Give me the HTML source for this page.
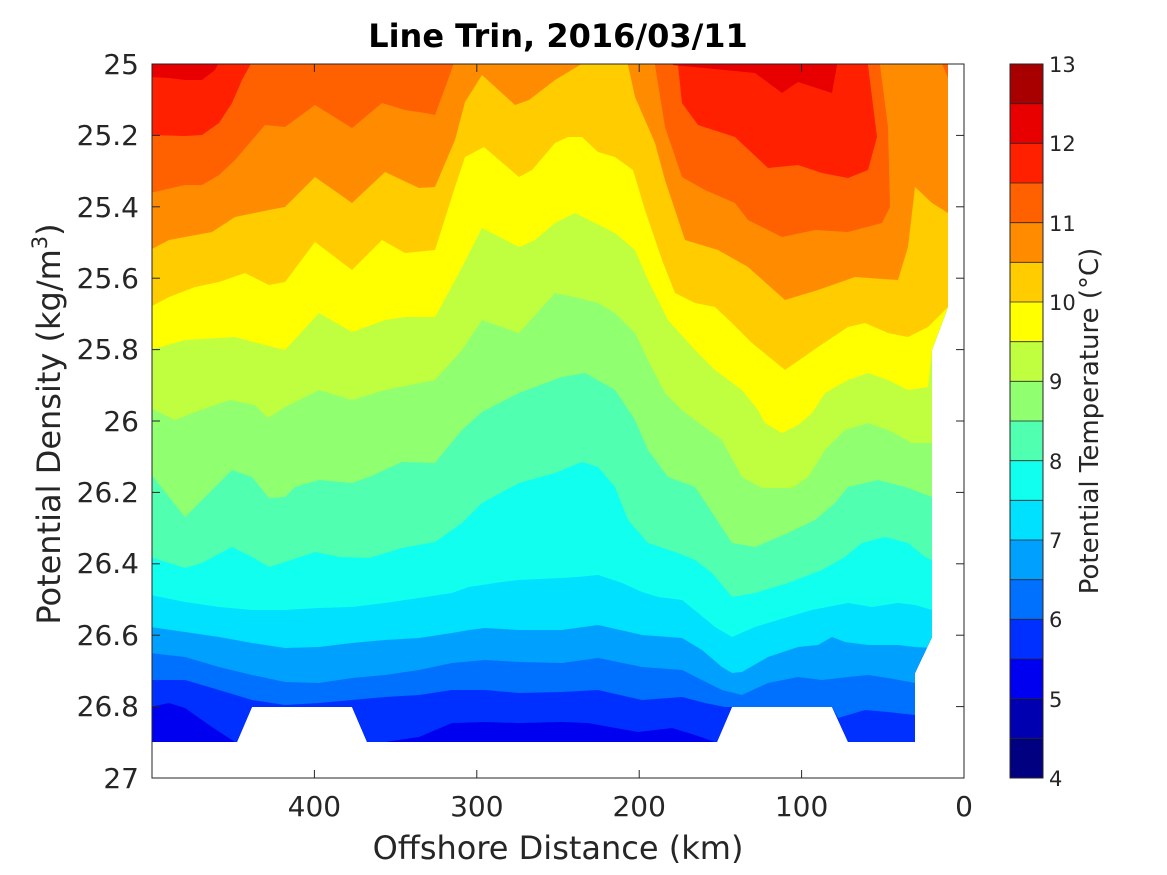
<!DOCTYPE html>
<html><head><meta charset="utf-8"><style>
html,body{margin:0;padding:0;background:#fff;}
svg{display:block;}
text{font-family:"DejaVu Sans","Liberation Sans",sans-serif;fill:#262626;}
</style></head><body>
<svg width="1167" height="875" viewBox="0 0 1167 875" xmlns="http://www.w3.org/2000/svg">
<defs>
<clipPath id="d"><polygon points="152,64 948,64 948,307 932,350 932,637 915,673 915,742 848,742 832,707 732,707 717,742 367,742 352,707 252,707 237,742 152,742"/></clipPath>
</defs>
<g clip-path="url(#d)">
<rect x="152" y="64" width="812" height="714" fill="#0000F0"/>
<polygon fill="#0030FF" points="150,60 150,707 169,703 185,708 212,727 235,742 365,742 385,742 419,737 452,723 485,722 519,723 562,722 588,723 638,732 672,728 695,735 715,742 980,742 980,60"/>
<polygon fill="#0070FF" points="150,60 150,680 185,680 219,690 252,700 285,705 319,703 352,700 385,697 419,695 452,690 485,690 519,693 562,692 598,690 642,700 682,697 705,703 725,707 832,707 838,718 865,710 888,712 915,715 980,715 980,60"/>
<polygon fill="#00A0FF" points="150,60 150,653 185,657 219,667 252,675 285,682 319,683 352,678 385,675 419,670 452,663 485,660 519,662 562,663 598,658 642,667 682,670 702,680 722,690 742,695 768,683 798,677 822,680 848,677 868,675 888,678 915,683 980,683 980,60"/>
<polygon fill="#00E0FF" points="150,60 150,627 185,632 219,637 252,643 285,648 319,647 352,643 385,640 419,638 452,633 469,630 485,628 519,630 562,630 598,625 642,635 682,638 702,650 722,667 732,673 742,672 768,657 798,647 818,645 832,637 845,642 868,645 898,645 915,647 932,648 980,648 980,60"/>
<polygon fill="#10FFEF" points="150,60 150,595 185,602 219,607 252,610 285,610 319,608 352,607 385,603 419,598 452,593 469,587 502,582 519,580 562,578 578,577 598,575 622,583 642,592 658,597 682,600 698,613 715,627 732,637 755,627 788,617 812,610 848,603 872,607 898,603 915,605 932,610 980,610 980,60"/>
<polygon fill="#50FFB0" points="150,60 150,557 185,568 202,563 232,547 252,557 269,567 285,562 315,552 339,557 369,558 402,548 435,542 462,523 482,503 519,483 555,473 582,462 598,467 615,487 628,520 648,543 678,553 695,560 712,573 732,597 755,593 788,583 822,570 845,557 862,543 885,537 908,543 925,557 932,560 980,560 980,60"/>
<polygon fill="#90FF70" points="150,60 150,473 169,497 185,517 212,490 232,470 252,477 269,498 285,497 295,487 319,480 352,483 369,477 402,462 435,463 462,430 482,412 519,393 562,377 585,373 615,390 635,420 648,450 668,477 695,487 715,517 732,543 755,547 788,533 815,520 835,503 848,487 878,480 905,487 932,497 980,497 980,60"/>
<polygon fill="#C0FF40" points="150,60 150,408 175,420 195,412 230,400 255,405 268,418 285,407 319,390 352,400 385,390 435,380 462,350 482,320 519,333 555,293 575,297 598,303 615,313 635,333 648,360 665,393 682,410 695,420 722,440 742,477 762,488 792,488 808,477 825,450 845,430 868,423 888,430 912,443 932,443 980,443 980,60"/>
<polygon fill="#FFFF00" points="150,60 150,350 185,340 235,337 265,345 285,350 319,313 352,332 385,320 405,317 435,317 459,273 482,228 519,247 535,240 555,223 575,213 595,223 615,233 635,250 648,280 668,320 695,350 715,370 742,390 758,410 765,423 782,433 798,425 812,413 825,393 848,380 868,373 888,380 908,390 928,387 932,350 980,350 980,60"/>
<polygon fill="#FFCC00" points="150,60 150,307 169,297 195,287 219,282 245,273 269,285 285,282 315,242 352,270 382,240 405,253 435,250 455,187 465,157 484,147 519,177 532,170 555,143 568,137 582,137 598,152 615,157 633,170 645,210 662,260 675,293 695,303 715,307 732,323 752,343 785,370 818,347 848,327 865,323 888,333 908,337 928,327 948,307 980,300 980,60"/>
<polygon fill="#FF8C00" points="150,60 150,250 169,240 212,232 235,217 269,210 285,207 315,177 352,203 385,172 419,188 435,187 455,140 465,102 482,75 515,105 529,100 555,80 575,68 588,60"/>
<polygon fill="#FF8C00" points="626,60 628,65 635,97 655,143 665,180 685,240 718,250 748,267 785,300 818,290 855,277 898,280 908,247 915,187 932,203 948,213 980,213 980,60"/>
<polygon fill="#FF6000" points="150,60 150,193 185,185 202,185 219,175 235,160 265,125 285,127 315,105 352,128 382,103 405,110 425,113 435,115 449,77 455,60"/>
<polygon fill="#FF6000" points="654,60 655,65 665,127 682,177 705,190 735,203 748,220 782,237 815,230 848,232 882,223 890,207 888,127 880,65 879,60"/>
<polygon fill="#FF6000" points="940,60 943,66 948,78 950,60"/>
<polygon fill="#FF2000" points="150,60 150,135 185,136 202,135 219,123 232,103 242,80 253,60"/>
<polygon fill="#FF2000" points="677,60 678,65 682,103 698,125 735,137 768,168 798,165 822,173 848,178 868,170 877,137 868,65 867,60"/>
<polygon fill="#E80000" points="150,60 150,77 169,78 185,80 202,80 215,70 220,60"/>
<polygon fill="#E80000" points="672,60 673,65 755,73 782,93 798,82 832,93 837,65 838,60"/>
</g>
<rect x="152" y="64" width="812" height="714" fill="none" stroke="#262626" stroke-width="1"/>
<g stroke="#262626" stroke-width="1">
<line x1="152" y1="135.4" x2="160" y2="135.4"/><line x1="956" y1="135.4" x2="964" y2="135.4"/>
<line x1="152" y1="206.8" x2="160" y2="206.8"/><line x1="956" y1="206.8" x2="964" y2="206.8"/>
<line x1="152" y1="278.2" x2="160" y2="278.2"/><line x1="956" y1="278.2" x2="964" y2="278.2"/>
<line x1="152" y1="349.6" x2="160" y2="349.6"/><line x1="956" y1="349.6" x2="964" y2="349.6"/>
<line x1="152" y1="421" x2="160" y2="421"/><line x1="956" y1="421" x2="964" y2="421"/>
<line x1="152" y1="492.4" x2="160" y2="492.4"/><line x1="956" y1="492.4" x2="964" y2="492.4"/>
<line x1="152" y1="563.8" x2="160" y2="563.8"/><line x1="956" y1="563.8" x2="964" y2="563.8"/>
<line x1="152" y1="635.2" x2="160" y2="635.2"/><line x1="956" y1="635.2" x2="964" y2="635.2"/>
<line x1="152" y1="706.6" x2="160" y2="706.6"/><line x1="956" y1="706.6" x2="964" y2="706.6"/>
<line x1="314.4" y1="778" x2="314.4" y2="770"/><line x1="314.4" y1="64" x2="314.4" y2="72"/>
<line x1="476.8" y1="778" x2="476.8" y2="770"/><line x1="476.8" y1="64" x2="476.8" y2="72"/>
<line x1="639.2" y1="778" x2="639.2" y2="770"/><line x1="639.2" y1="64" x2="639.2" y2="72"/>
<line x1="801.6" y1="778" x2="801.6" y2="770"/><line x1="801.6" y1="64" x2="801.6" y2="72"/>
</g>
<g font-size="28" text-anchor="end">
<text x="139" y="74">25</text>
<text x="139" y="145">25.2</text>
<text x="139" y="217">25.4</text>
<text x="139" y="288">25.6</text>
<text x="139" y="359">25.8</text>
<text x="139" y="431">26</text>
<text x="139" y="502">26.2</text>
<text x="139" y="573">26.4</text>
<text x="139" y="645">26.6</text>
<text x="139" y="716">26.8</text>
<text x="139" y="788">27</text>
</g>
<g font-size="28" text-anchor="middle">
<text x="314.4" y="816">400</text>
<text x="476.8" y="816">300</text>
<text x="639.2" y="816">200</text>
<text x="801.6" y="816">100</text>
<text x="964" y="816">0</text>
</g>
<text x="558" y="859" font-size="32" text-anchor="middle">Offshore Distance (km)</text>
<text transform="translate(60,424) rotate(-90)" font-size="32" text-anchor="middle">Potential Density (kg/m<tspan font-size="21" dy="-13">3</tspan><tspan dy="13">)</tspan></text>
<text x="558" y="47" font-size="32" font-weight="bold" text-anchor="middle" style="fill:#000">Line Trin, 2016/03/11</text>
<g>
<rect x="1010" y="64" width="33" height="39.67" fill="#A80000"/>
<rect x="1010" y="103.67" width="33" height="39.67" fill="#E80000"/>
<rect x="1010" y="143.33" width="33" height="39.67" fill="#FF2000"/>
<rect x="1010" y="183" width="33" height="39.67" fill="#FF6000"/>
<rect x="1010" y="222.67" width="33" height="39.67" fill="#FF8C00"/>
<rect x="1010" y="262.33" width="33" height="39.67" fill="#FFCC00"/>
<rect x="1010" y="302" width="33" height="39.67" fill="#FFFF00"/>
<rect x="1010" y="341.67" width="33" height="39.67" fill="#C0FF40"/>
<rect x="1010" y="381.33" width="33" height="39.67" fill="#90FF70"/>
<rect x="1010" y="421" width="33" height="39.67" fill="#50FFB0"/>
<rect x="1010" y="460.67" width="33" height="39.67" fill="#10FFEF"/>
<rect x="1010" y="500.33" width="33" height="39.67" fill="#00E0FF"/>
<rect x="1010" y="540" width="33" height="39.67" fill="#00A0FF"/>
<rect x="1010" y="579.67" width="33" height="39.67" fill="#0070FF"/>
<rect x="1010" y="619.33" width="33" height="39.67" fill="#0030FF"/>
<rect x="1010" y="659" width="33" height="39.67" fill="#0000F0"/>
<rect x="1010" y="698.67" width="33" height="39.67" fill="#0000B0"/>
<rect x="1010" y="738.33" width="33" height="39.67" fill="#000080"/>
</g>
<g stroke="#262626" stroke-width="0.8">
<line x1="1010" x2="1043" y1="103.67" y2="103.67"/><line x1="1010" x2="1043" y1="143.33" y2="143.33"/>
<line x1="1010" x2="1043" y1="183" y2="183"/><line x1="1010" x2="1043" y1="222.67" y2="222.67"/>
<line x1="1010" x2="1043" y1="262.33" y2="262.33"/><line x1="1010" x2="1043" y1="302" y2="302"/>
<line x1="1010" x2="1043" y1="341.67" y2="341.67"/><line x1="1010" x2="1043" y1="381.33" y2="381.33"/>
<line x1="1010" x2="1043" y1="421" y2="421"/><line x1="1010" x2="1043" y1="460.67" y2="460.67"/>
<line x1="1010" x2="1043" y1="500.33" y2="500.33"/><line x1="1010" x2="1043" y1="540" y2="540"/>
<line x1="1010" x2="1043" y1="579.67" y2="579.67"/><line x1="1010" x2="1043" y1="619.33" y2="619.33"/>
<line x1="1010" x2="1043" y1="659" y2="659"/><line x1="1010" x2="1043" y1="698.67" y2="698.67"/>
<line x1="1010" x2="1043" y1="738.33" y2="738.33"/>
</g>
<rect x="1010" y="64" width="33" height="714" fill="none" stroke="#262626" stroke-width="1"/>
<g font-size="21">
<text x="1049" y="72">13</text>
<text x="1049" y="151">12</text>
<text x="1049" y="231">11</text>
<text x="1049" y="310">10</text>
<text x="1049" y="389">9</text>
<text x="1049" y="469">8</text>
<text x="1049" y="548">7</text>
<text x="1049" y="627">6</text>
<text x="1049" y="707">5</text>
<text x="1049" y="786">4</text>
</g>
<text transform="translate(1098,421) rotate(-90)" font-size="26" text-anchor="middle">Potential Temperature (°C)</text>
</svg>
</body></html>
